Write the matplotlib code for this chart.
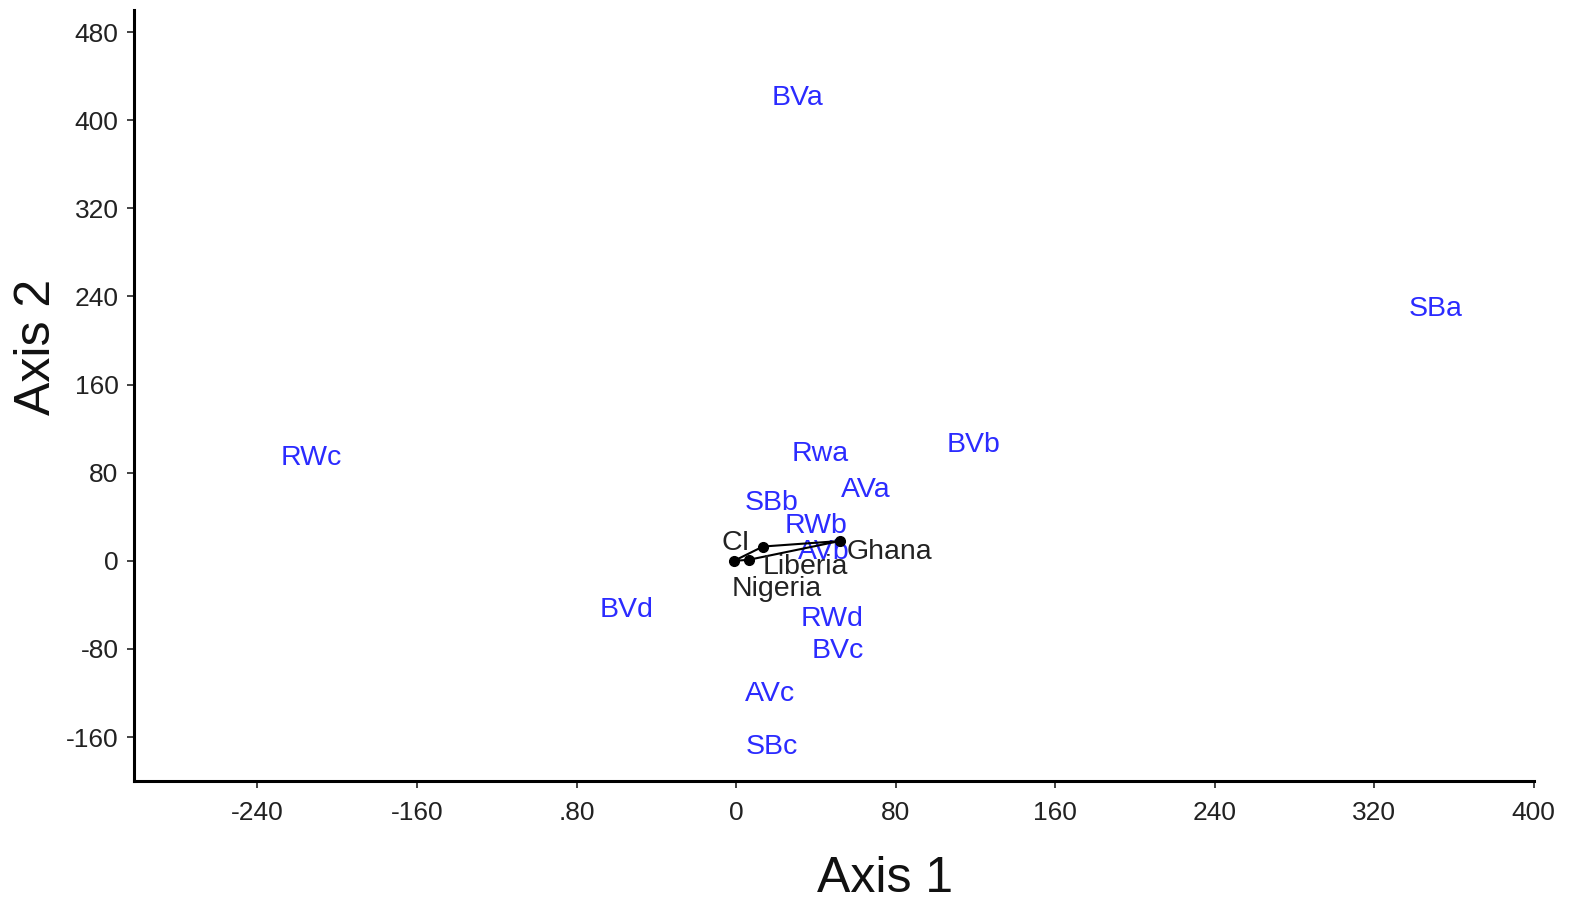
import matplotlib.pyplot as plt

# ==============================================================================
# Data
# ==============================================================================
SITE_LABELS = ["BVa", "SBa", "RWc", "Rwa", "BVb", "AVa", "SBb", "RWb",
               "AVb", "BVd", "RWd", "BVc", "AVc", "SBc"]
SITE_X = [31, 351, -213, 42, 119, 65, 18, 40, 44, -55, 48, 51, 17, 18]
SITE_Y = [423, 231, 96, 100, 108, 67, 55, 34, 11, -42, -50, -79, -118, -166]

COUNTRIES = ["Nigeria", "Liberia", "CI", "Ghana"]
COUNTRY_X = [-1, 6.5, 13.5, 52]
COUNTRY_Y = [0, 1, 13, 18]
# polygon linking the country points
LINK_ORDER = ["Nigeria", "CI", "Ghana", "Liberia", "Nigeria"]

X_TICKS = [-240, -160, -80, 0, 80, 160, 240, 320, 400]
X_TICK_LABELS = ["-240", "-160", ".80", "0", "80", "160", "240", "320", "400"]
Y_TICKS = [-160, -80, 0, 80, 160, 240, 320, 400, 480]

BLUE = "#2b2bff"
FONT = ["Liberation Sans", "DejaVu Sans"]

# label placement in pixels relative to each point
COUNTRY_OFFSETS = {
    "CI": ((-13, 7), "right"),
    "Ghana": ((7, -8), "left"),
    "Liberia": ((14, -4), "left"),
    "Nigeria": ((-2, -25), "left"),
}


def make_plot():
    plt.rcParams['font.family'] = FONT
    plt.rcParams['axes.unicode_minus'] = False
    fig = plt.figure(figsize=(15.78, 9.01), dpi=100)
    ax = fig.add_axes([0.0848, 0.1330, 0.8871, 0.8558])

    # blue site labels
    for lab, x, y in zip(SITE_LABELS, SITE_X, SITE_Y):
        ax.text(x, y, lab, color=BLUE, fontsize=20.5, ha='center',
                va='center_baseline')

    # country polygon and points
    idx = {c: i for i, c in enumerate(COUNTRIES)}
    lx = [COUNTRY_X[idx[c]] for c in LINK_ORDER]
    ly = [COUNTRY_Y[idx[c]] for c in LINK_ORDER]
    ax.plot(lx, ly, color='black', linewidth=1.5, zorder=3)
    ax.plot(COUNTRY_X, COUNTRY_Y, 'o', color='black', markersize=7, zorder=4)

    for c, x, y in zip(COUNTRIES, COUNTRY_X, COUNTRY_Y):
        off, ha = COUNTRY_OFFSETS[c]
        ax.annotate(c, (x, y), xytext=off, textcoords='offset pixels',
                    ha=ha, va='center_baseline', fontsize=20.5,
                    color='#222222', zorder=5)

    ax.set_xlim(-302, 400)
    ax.set_ylim(-200, 500)

    ax.set_xticks(X_TICKS)
    ax.set_xticklabels(X_TICK_LABELS)
    ax.set_yticks(Y_TICKS)
    ax.tick_params(axis='both', labelsize=19, colors='#222222',
                   width=1.2, length=5)
    ax.tick_params(axis='x', pad=9)
    ax.tick_params(axis='y', pad=6)

    for side in ['top', 'right']:
        ax.spines[side].set_visible(False)
    for side in ['left', 'bottom']:
        ax.spines[side].set_linewidth(2.2)
        ax.spines[side].set_color('black')

    ax.set_xlabel("Axis 1", fontsize=36, color='#111111')
    ax.set_ylabel("Axis 2", fontsize=36, color='#111111')
    ax.xaxis.set_label_coords(0.537, -0.097)
    ax.yaxis.set_label_coords(-0.053, 0.563)

    fig.savefig("out.png", dpi=100)


if __name__ == "__main__":
    make_plot()
